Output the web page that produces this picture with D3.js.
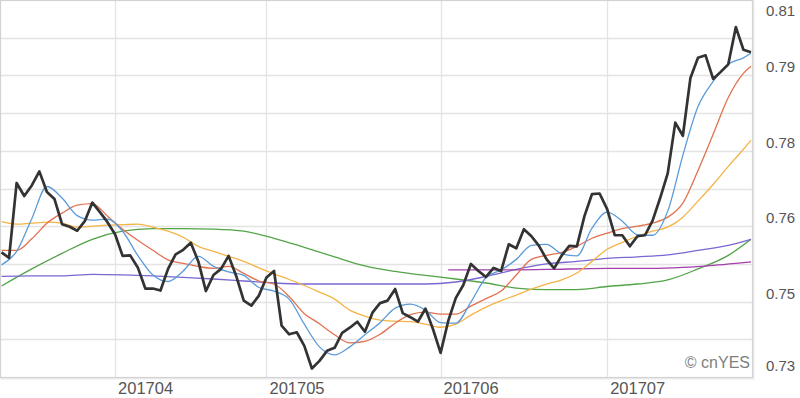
<!DOCTYPE html>
<html>
<head>
<meta charset="utf-8">
<script src="https://cdn.jsdelivr.net/npm/d3@7"></script>
<style>
body { margin: 0; background: #fff; }
svg { display: block; font-family: "Liberation Sans", Arial, sans-serif; }
</style>
</head>
<body>
<svg width="800" height="398"></svg>
<script>
// trading days (weekdays) 2017-03-13 .. 2017-07-28
var days = d3.timeDay.range(new Date(2017, 2, 13), new Date(2017, 6, 29))
	.filter(function(d) { var w = d.getDay(); return w > 0 && w < 6; });

// daily close
var price = [
	0.7548,0.7537,0.7686,0.7660,0.7681,0.7709,0.7668,0.7654,0.7604,0.7599,
	0.7591,0.7610,0.7647,0.7628,0.7608,0.7584,0.7541,0.7542,0.7518,0.7476,
	0.7476,0.7472,0.7515,0.7544,0.7553,0.7567,0.7530,0.7471,0.7503,0.7515,
	0.7541,0.7501,0.7452,0.7442,0.7462,0.7498,0.7511,0.7402,0.7385,0.7389,
	0.7362,0.7317,0.7332,0.7352,0.7358,0.7388,0.7398,0.7410,0.7390,0.7428,
	0.7447,0.7452,0.7475,0.7427,0.7419,0.7410,0.7436,0.7395,0.7348,0.7411,
	0.7457,0.7483,0.7525,0.7511,0.7499,0.7517,0.7511,0.7564,0.7556,0.7594,
	0.7580,0.7561,0.7534,0.7516,0.7542,0.7561,0.7560,0.7620,0.7664,0.7665,
	0.7634,0.7582,0.7582,0.7560,0.7580,0.7582,0.7611,0.7656,0.7705,0.7806,
	0.7780,0.7895,0.7935,0.7940,0.7893,0.7907,0.7922,0.7996,0.7951,0.7946
];

// short averages, read every second day
var maIdx = [0,2,4,6,8,10,12,14,16,18,20,22,24,26,28,30,32,34,36,38,
	40,42,44,46,48,50,52,54,56,58,60,62,64,66,68,70,72,74,76,78,
	80,82,84,86,88,90,92,94,96,98,99];
var ma5 = [
	0.7523,0.7550,0.7615,0.7679,0.7656,0.7621,0.7612,0.7614,0.7590,0.7542,
	0.7503,0.7490,0.7511,0.7540,0.7520,0.7509,0.7502,0.7478,0.7471,0.7455,
	0.7405,0.7360,0.7344,0.7360,0.7384,0.7408,0.7437,0.7445,0.7433,0.7408,
	0.7407,0.7449,0.7498,0.7513,0.7534,0.7562,0.7564,0.7545,0.7541,0.7596,
	0.7628,0.7610,0.7583,0.7582,0.7630,0.7741,0.7838,0.7888,0.7922,0.7935,
	0.7944];
var ma10 = [
	0.7552,0.7552,0.7575,0.7606,0.7626,0.7642,0.7645,0.7620,0.7594,0.7572,
	0.7552,0.7533,0.7526,0.7520,0.7516,0.7520,0.7506,0.7491,0.7485,0.7460,
	0.7426,0.7406,0.7384,0.7368,0.7371,0.7385,0.7407,0.7424,0.7429,0.7425,
	0.7425,0.7441,0.7456,0.7471,0.7503,0.7534,0.7542,0.7548,0.7560,0.7576,
	0.7586,0.7595,0.7600,0.7606,0.7618,0.7646,0.7711,0.7783,0.7856,0.7904,
	0.7918];
var ma20 = [
	0.7609,0.7604,0.7606,0.7608,0.7606,0.7598,0.7600,0.7602,0.7603,0.7604,
	0.7598,0.7590,0.7578,0.7560,0.7550,0.7540,0.7530,0.7517,0.7505,0.7494,
	0.7482,0.7469,0.7455,0.7433,0.7421,0.7413,0.7411,0.7410,0.7405,0.7399,
	0.7405,0.7423,0.7439,0.7452,0.7463,0.7475,0.7485,0.7493,0.7507,0.7530,
	0.7554,0.7568,0.7580,0.7590,0.7598,0.7618,0.7650,0.7683,0.7719,0.7753,
	0.7771];

// long averages, read every fourth day
var slowIdx = [0,4,8,12,16,20,24,28,32,36,40,44,48,52,56,60,64,68,72,76,80,84,88,92,96,99];
var ma60 = [0.7481,0.7515,0.7546,0.7574,0.7590,0.7595,0.7595,0.7594,0.7590,0.7576,
	0.7558,0.7539,0.7521,0.7510,0.7502,0.7495,0.7487,0.7477,0.7474,0.7474,
	0.7480,0.7485,0.7493,0.7515,0.7542,0.7574];
var ma120 = [0.7500,0.7501,0.7501,0.7504,0.7503,0.7501,0.7498,0.7495,0.7491,0.7487,
	0.7485,0.7485,0.7485,0.7485,0.7485,0.7489,0.7500,0.7514,0.7525,0.7530,
	0.7536,0.7539,0.7543,0.7552,0.7562,0.7574];

var ma240Idx = [59,66,72,80,86,90,94,97,99];
var ma240 = [0.7513,0.7513,0.7514,0.7516,0.7516,0.7518,0.7522,0.7526,0.7529];

var yTicks = [0.73,0.745,0.76,0.775,0.79,0.805];
var yTickLabels = ["0.73","0.75","0.76","0.78","0.79","0.81"];

var svg = d3.select("svg"),
	plotW = 752,
	plotH = 377;

var x = d3.scaleLinear().domain([0, price.length - 1]).range([1.5, 751]);
var y = d3.scaleLinear().domain([0.73, 0.805]).range([plotH, 0]);

svg.append("rect").attr("x", 1.5).attr("y", 1.5).attr("width", plotW).attr("height", plotH)
	.attr("fill", "none").attr("stroke", "#ececec").attr("stroke-width", 2);
svg.append("rect").attr("x", 0.5).attr("y", 0.5).attr("width", plotW).attr("height", plotH)
	.attr("fill", "#fff").attr("stroke", "#d2d2d2").attr("stroke-width", 1.2);

// horizontal grid
var gridVals = d3.range(11).map(function(i) { return 0.73 + i * 0.0075; });
svg.selectAll(".hgrid")
	.data(gridVals.slice(1, 10))
	.enter()
	.append("line")
	  .attr("x1", 1).attr("x2", plotW)
	  .attr("y1", function(d) { return Math.round(y(d)) + 0.5; })
	  .attr("y2", function(d) { return Math.round(y(d)) + 0.5; })
	  .attr("stroke", "#e4e4e4").attr("stroke-width", 1.3);

// month starts
var monthStarts = [];
days.forEach(function(d, i) {
	if (i > 0 && d.getMonth() != days[i - 1].getMonth()) monthStarts.push(i);
});
svg.selectAll(".vgrid")
	.data(monthStarts)
	.enter()
	.append("line")
	  .attr("x1", function(d) { return Math.round(x(d)) + 0.5; })
	  .attr("x2", function(d) { return Math.round(x(d)) + 0.5; })
	  .attr("y1", 1).attr("y2", plotH)
	  .attr("stroke", "#e4e4e4").attr("stroke-width", 1.3);

svg.selectAll(".xlab")
	.data(monthStarts)
	.enter()
	.append("text")
	  .attr("x", function(d) { return x(d) + 3; })
	  .attr("y", 394)
	  .attr("font-size", 16.5)
	  .attr("fill", "#555")
	  .text(function(d) { return d3.timeFormat("%Y%m")(days[d]); });

svg.selectAll(".ylab")
	.data(yTicks)
	.enter()
	.append("text")
	  .attr("x", 766)
	  .attr("y", function(d) { return Math.max(16, Math.min(371, y(d) - 3)); })
	  .attr("font-size", 15)
	  .attr("fill", "#555")
	  .text(function(d, i) { return yTickLabels[i]; });

svg.append("text")
	.attr("x", 750).attr("y", 368)
	.attr("text-anchor", "end")
	.attr("font-size", 16)
	.attr("fill", "#808080")
	.text("\u00a9 cnYES");

function avgLine(idx, vals) {
	return d3.line()
		.curve(d3.curveMonotoneX)
		.x(function(d, i) { return x(idx[i]); })
		.y(function(d) { return y(d); })(vals);
}

var series = [
	{ idx: slowIdx, vals: ma60, color: "#52a447" },
	{ idx: slowIdx, vals: ma120, color: "#7b66d2" },
	{ idx: ma240Idx, vals: ma240, color: "#a43fae" },
	{ idx: maIdx, vals: ma20, color: "#f4b446" },
	{ idx: maIdx, vals: ma10, color: "#e2714f" },
	{ idx: maIdx, vals: ma5, color: "#5b9bd8" }
];

svg.selectAll(".ma")
	.data(series)
	.enter()
	.append("path")
	  .attr("d", function(d) { return avgLine(d.idx, d.vals); })
	  .attr("fill", "none")
	  .attr("stroke", function(d) { return d.color; })
	  .attr("stroke-width", 1.3);

svg.append("path")
	.attr("d", d3.line()
		.x(function(d, i) { return x(i); })
		.y(function(d) { return y(d); })(price))
	.attr("fill", "none")
	.attr("stroke", "#333")
	.attr("stroke-width", 2.7)
	.attr("stroke-linejoin", "round");
</script>
</body>
</html>
